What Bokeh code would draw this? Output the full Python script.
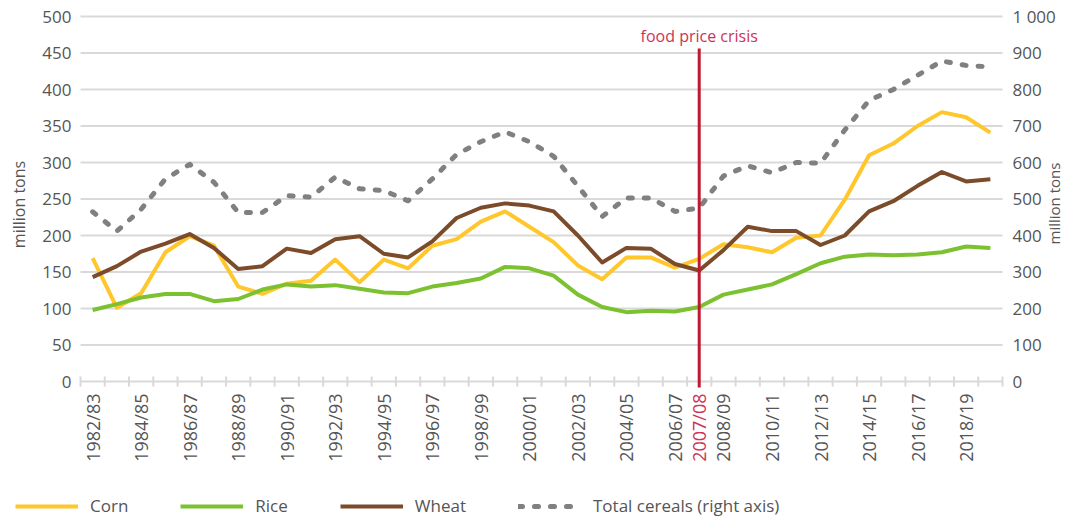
import math
from bokeh.plotting import figure
from bokeh.models import Range1d, Legend, LegendItem
from bokeh.core.properties import value
from bokeh.embed import file_html
from bokeh.resources import INLINE

seasons = ["1982/83", "1983/84", "1984/85", "1985/86", "1986/87", "1987/88", "1988/89", "1989/90",
           "1990/91", "1991/92", "1992/93", "1993/94", "1994/95", "1995/96", "1996/97", "1997/98",
           "1998/99", "1999/00", "2000/01", "2001/02", "2002/03", "2003/04", "2004/05", "2005/06",
           "2006/07", "2007/08", "2008/09", "2009/10", "2010/11", "2011/12", "2012/13", "2013/14",
           "2014/15", "2015/16", "2016/17", "2017/18", "2018/19", "2019/20"]
labeled_seasons = ["1982/83", "1984/85", "1986/87", "1988/89", "1990/91", "1992/93", "1994/95",
                   "1996/97", "1998/99", "2000/01", "2002/03", "2004/05", "2006/07", "2008/09",
                   "2010/11", "2012/13", "2014/15", "2016/17", "2018/19"]
crisis_season = "2007/08"

corn = [169, 101, 121, 177, 199, 186, 130, 120, 134, 138, 167, 136, 167, 155, 186, 195, 219,
        233, 212, 191, 159, 140, 170, 170, 156, 168, 188, 184, 177, 197, 200, 249, 310, 326,
        350, 369, 362, 341]
rice = [98, 106, 115, 120, 120, 110, 113, 126, 133, 130, 132, 127, 122, 121, 130, 135, 141,
        157, 155, 145, 119, 102, 95, 97, 96, 102, 119, 126, 133, 147, 162, 171, 174, 173,
        174, 177, 185, 183]
wheat = [143, 158, 178, 189, 202, 183, 154, 158, 182, 176, 195, 199, 175, 170, 192, 224, 238,
         244, 241, 233, 200, 163, 183, 182, 161, 152, 180, 212, 206, 206, 187, 200, 233, 247,
         268, 287, 274, 277]
total = [465, 412, 472, 555, 595, 546, 463, 463, 509, 505, 560, 528, 523, 495, 555, 622, 657,
         684, 657, 617, 535, 452, 503, 503, 466, 475, 563, 591, 572, 600, 598, 689, 770, 800,
         839, 878, 866, 862]

left_ticks = [0, 50, 100, 150, 200, 250, 300, 350, 400, 450, 500]
right_ticks = [0, 100, 200, 300, 400, 500, 600, 700, 800, 900, 1000]
right_tick_labels = ["0", "100", "200", "300", "400", "500", "600", "700", "800", "900", "1 000"]
y_title = "million tons"
crisis_text = "food price crisis"

FONT = "Open Sans"
TXT = "#555555"
GRID = "#D9D9D9"
C_CORN = "#FFC72C"
C_RICE = "#7BC130"
C_WHEAT = "#7B4B2A"
C_TOTAL = "#808080"
C_RED = "#C0182F"
C_REDTXT = "#CC3355"

# ---- geometry (pixels) ----
W, H = 1065, 517
PL, PR, PT, PB = 80, 1002, 16, 381          # plot-area box in canvas pixels
n = len(seasons)
ymax_left = left_ticks[-1]
ymax_right = right_ticks[-1]
kx = (PR - PL) / n                          # px per category
ky = (PB - PT) / ymax_left                  # px per left-axis unit
x_lo = -0.5 - PL / kx
x_hi = n - 0.5 + (W - PR) / kx
y_lo = -(H - PB) / ky
y_hi = ymax_left + PT / ky
r_scale = ymax_right / ymax_left

def dx(px):
    return px / kx

def dy(px):
    return px / ky

xs = list(range(n))

p = figure(width=W, height=H, output_backend="svg", toolbar_location=None,
           x_range=Range1d(x_lo, x_hi), y_range=Range1d(y_lo, y_hi),
           min_border=0, min_border_left=0, min_border_right=0,
           min_border_top=0, min_border_bottom=0,
           x_axis_type=None, y_axis_type=None)
p.extra_y_ranges = {"right": Range1d(y_lo * r_scale, y_hi * r_scale)}
p.outline_line_color = None
p.background_fill_color = "white"
p.border_fill_color = "white"
p.xgrid.visible = False
p.ygrid.visible = False

x0, x1 = -0.5, n - 0.5

# horizontal grid lines
p.segment(x0=[x0] * (len(left_ticks) - 1), x1=[x1] * (len(left_ticks) - 1),
          y0=left_ticks[1:], y1=left_ticks[1:], line_color=GRID, line_width=2)
# x axis line and category boundary ticks
p.segment(x0=[x0], x1=[x1], y0=[0], y1=[0], line_color=GRID, line_width=2)
bounds = [i - 0.5 for i in range(n + 1)]
p.segment(x0=bounds, x1=bounds, y0=[-dy(5)] * len(bounds), y1=[dy(5)] * len(bounds),
          line_color=GRID, line_width=2)

# left tick labels
p.text(x=[x0 - dx(9)] * len(left_ticks), y=left_ticks, text=[str(t) for t in left_ticks],
       text_align="right", text_baseline="middle", text_font=value(FONT),
       text_font_size="17px", text_color=TXT)
# right tick labels
p.text(x=[x1 + dx(10)] * len(right_ticks), y=right_ticks, text=right_tick_labels,
       y_range_name="right", text_align="left", text_baseline="middle",
       text_font=value(FONT), text_font_size="17px", text_color=TXT)
# bottom category labels
label_idx = [seasons.index(s) for s in labeled_seasons]
p.text(x=label_idx, y=[-dy(12)] * len(label_idx), text=labeled_seasons, angle=math.pi / 2,
       text_align="right", text_baseline="middle", text_font=value(FONT),
       text_font_size="18px", text_color=TXT)

# axis titles
p.text(x=[x0 - dx(62)], y=[dy(PB - 204)], text=[y_title], angle=math.pi / 2,
       text_align="center", text_baseline="middle", text_font=value(FONT),
       text_font_size="16px", text_color=TXT)
p.text(x=[x1 + dx(51)], y=[dy(PB - 203)], text=[y_title], angle=math.pi / 2,
       text_align="center", text_baseline="middle", text_font=value(FONT),
       text_font_size="15px", text_color=TXT)

# series
r_corn = p.line(xs, corn, line_color=C_CORN, line_width=4, line_join="round")
r_rice = p.line(xs, rice, line_color=C_RICE, line_width=4, line_join="round")
r_wheat = p.line(xs, wheat, line_color=C_WHEAT, line_width=4, line_join="round")
r_total = p.line(xs, total, y_range_name="right", line_color=C_TOTAL, line_width=5,
                 line_dash="4 12", line_cap="round", line_join="round")

# crisis marker
ci = seasons.index(crisis_season)
p.segment(x0=[ci], x1=[ci], y0=[-dy(6)], y1=[dy(PB - 48)], line_color=C_RED, line_width=3)
p.text(x=[ci], y=[dy(PB - 35)], text=[crisis_text], text_align="center",
       text_baseline="middle", text_font=value(FONT), text_font_size="16px",
       text_color=C_REDTXT)
p.text(x=[ci], y=[-dy(12)], text=[crisis_season], angle=math.pi / 2, text_align="right",
       text_baseline="middle", text_font=value(FONT), text_font_size="18px",
       text_color=C_REDTXT)

legend = Legend(items=[LegendItem(label="Corn", renderers=[r_corn]),
                       LegendItem(label="Rice", renderers=[r_rice]),
                       LegendItem(label="Wheat", renderers=[r_wheat]),
                       LegendItem(label="Total cereals (right axis)", renderers=[r_total])],
                orientation="horizontal", location=(15, 0),
                glyph_width=63, glyph_height=20, label_height=20, label_standoff=12,
                spacing=52, padding=0, margin=0, border_line_color=None,
                background_fill_alpha=0, label_text_font=FONT,
                label_text_font_size="17px", label_text_color=TXT)
p.add_layout(legend, "center")

open("out.html", "w").write(file_html(p, INLINE))
